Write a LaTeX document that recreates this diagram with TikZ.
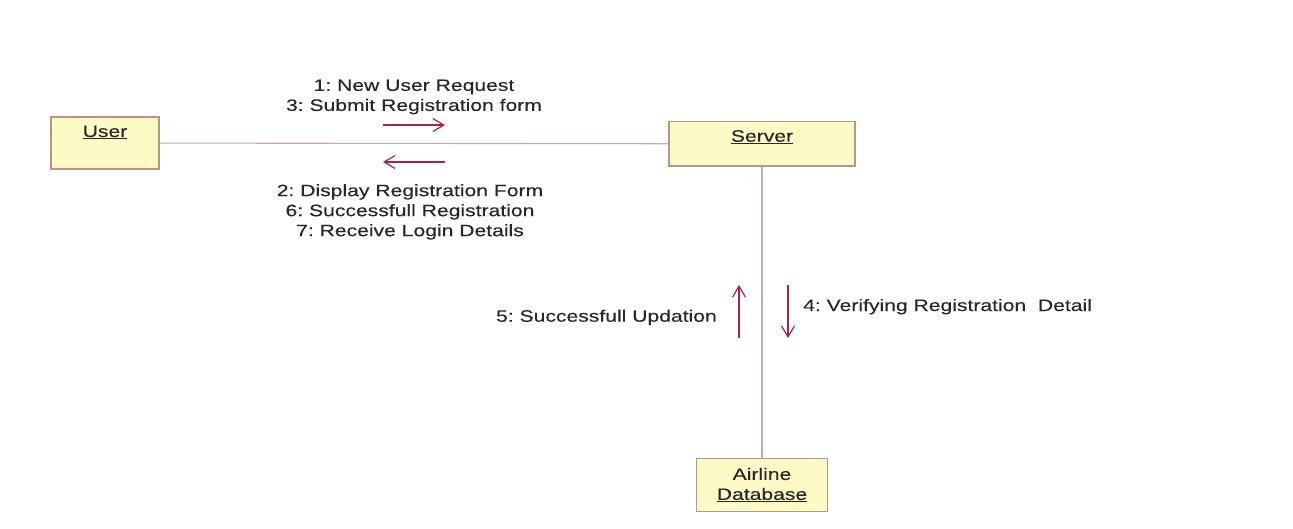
\documentclass[tikz,border=0pt]{standalone}
\usepackage{fontspec}
\setmainfont{Liberation Sans}[FakeStretch=1.28, FakeBold=0.3]
\usetikzlibrary{arrows.meta}

\definecolor{rosefill}{RGB}{254,250,198}
\definecolor{roseedge}{RGB}{186,148,132}
\definecolor{roselink}{RGB}{204,166,176}
\definecolor{msgred}{RGB}{168,32,84}
\definecolor{labelgray}{RGB}{40,40,40}

\tikzset{
  object/.style={draw=roseedge, fill=rosefill, line width=1.1pt, inner xsep=0pt, inner ysep=8pt, align=center, text=labelgray},
  link/.style={draw=roselink, line width=1.1pt},
  message/.style={draw=msgred, line width=1.2pt, -{Straight Barb[length=11pt,width=13pt]}},
  msglabel/.style={inner sep=0pt, align=center, text=labelgray}
}

\begin{document}
\frenchspacing
\begin{tikzpicture}[x=1pt, y=-1pt, every node/.style={font=\fontsize{16.5}{20}\selectfont}]
    \useasboundingbox (0,0) rectangle (1293,528);

    % objects
    \node[object, minimum width=108pt, text height=12pt, text depth=24pt, anchor=base] (user) at (105,137) {\underline{User}};
    \node[object, minimum width=186pt, text height=12pt, text depth=16.3pt, anchor=base] (server) at (762,141.7) {\underline{Server}};
    \node[object, inner ysep=0pt, minimum width=130.6pt, minimum height=53.4pt] (database) at (762,485) {Airline\\\underline{Database}};

    \draw[link] (user) -- (server);
    \draw[link] (server) -- (database);

    % messages
    \coordinate (req from) at (383,125);
    \coordinate (req to) at (445,125);
    \coordinate (disp from) at (445,162);
    \coordinate (disp to) at (383,162);
    \coordinate (upd from) at (739,338);
    \coordinate (upd to) at (739,285);
    \coordinate (ver from) at (788,285);
    \coordinate (ver to) at (788,338);

    \draw[message] (req from) -- (req to);
    \draw[message] (disp from) -- (disp to);
    \draw[message] (upd from) -- (upd to);
    \draw[message] (ver from) -- (ver to);

    \node[msglabel, anchor=south] (req label) at (414,114.5) {1: New User Request\\3: Submit Registration form};
    \node[msglabel, anchor=north] (disp label) at (410,184) {2: Display Registration Form\\6: Successfull Registration\\7: Receive Login Details};
    \node[msglabel, anchor=base east] (upd label) at (717,321.7) {5: Successfull Updation};
    \node[msglabel, anchor=base west] (ver label) at (803,311) {4: Verifying Registration\ \ Detail};
\end{tikzpicture}
\end{document}
